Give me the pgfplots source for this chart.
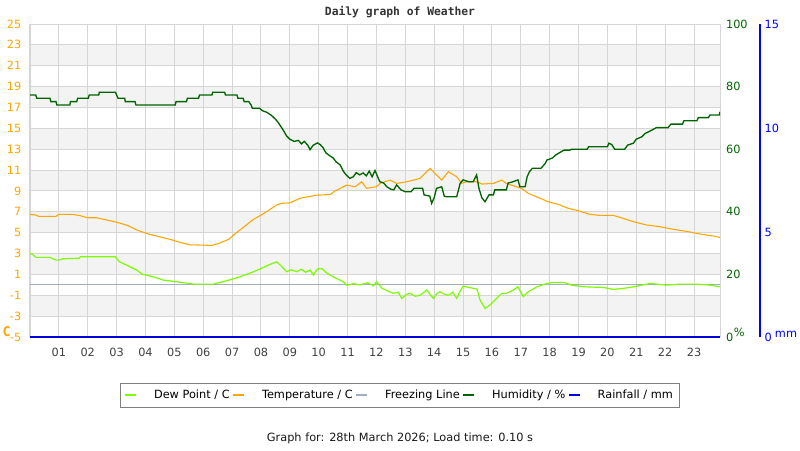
\documentclass[border=0pt]{standalone}
\usepackage{pgfplots}
\pgfplotsset{compat=1.18}
\usepackage{fontspec}
\setmainfont{DejaVu Sans}
\newfontfamily\monofont{DejaVu Sans Mono}
\definecolor{torange}{HTML}{FFA500}
\definecolor{dewgreen}{HTML}{7CFC00}
\definecolor{hgreen}{HTML}{006400}
\definecolor{freeze}{HTML}{A0AEC4}
\definecolor{rainblue}{HTML}{0000FF}
\definecolor{gridc}{HTML}{D6D6D6}
\definecolor{bandc}{HTML}{F3F3F3}
\newcommand{\fs}{\fontsize{8.5}{10}\selectfont}
\pgfplotsset{
  common/.style={
    at={(22.5pt,84.75pt)}, anchor=south west,
    scale only axis, height=234.75pt,
    major tick length=0pt,
    tick label style={font=\fs},
    /pgf/number format/assume math mode=true,
  }
}

\begin{document}
\begin{tikzpicture}
\path[use as bounding box] (0pt,0pt) rectangle (600pt,337.5pt);

% ---------- background bands ----------
\begin{axis}[
  common, width=517.5pt,
  xmin=0, xmax=23.9, ymin=-5, ymax=25,
  hide axis,
]
\fill[bandc] (axis cs:0,21) rectangle (axis cs:23.9,23);
\fill[bandc] (axis cs:0,17) rectangle (axis cs:23.9,19);
\fill[bandc] (axis cs:0,13) rectangle (axis cs:23.9,15);
\fill[bandc] (axis cs:0,9) rectangle (axis cs:23.9,11);
\fill[bandc] (axis cs:0,5) rectangle (axis cs:23.9,7);
\fill[bandc] (axis cs:0,1) rectangle (axis cs:23.9,3);
\fill[bandc] (axis cs:0,-3) rectangle (axis cs:23.9,-1);
\end{axis}

% ---------- main axis: temperature / dew point ----------
\begin{axis}[
  common, width=517.5pt,
  xmin=0, xmax=23.9, ymin=-5, ymax=25,
  xtick={1,2,...,23},
  xticklabels={01,02,03,04,05,06,07,08,09,10,11,12,13,14,15,16,17,18,19,20,21,22,23},
  ytick={-5,-3,...,25},
  grid=major,
  major grid style={draw=gridc, line width=0.75pt},
  axis line style={draw=gridc, line width=0.75pt},
  xticklabel style={text=black!75, yshift=-5pt},
  yticklabel style={text=torange, xshift=-3pt},
]
% freezing line
\addplot[freeze, line width=1pt] coordinates {(0,0) (23.9,0)};

% dew point
\addplot[dewgreen, line width=0.9pt] coordinates {
(0.00,3.02) (0.10,2.90) (0.20,2.63) (0.69,2.63) (0.90,2.37) (1.00,2.37)
(1.15,2.50) (1.70,2.55) (1.75,2.69) (2.95,2.69) (3.10,2.21) (3.35,1.89)
(3.70,1.41) (3.88,1.03) (4.27,0.77) (4.62,0.45) (5.08,0.29) (5.66,0.07)
(6.35,0.07) (6.81,0.39) (7.27,0.77) (7.74,1.25) (8.09,1.67) (8.30,1.95)
(8.55,2.21) (8.70,1.80) (8.89,1.25) (9.05,1.45) (9.24,1.25) (9.40,1.50)
(9.55,1.20) (9.70,1.41) (9.82,0.93) (9.95,1.50) (10.10,1.57) (10.25,1.20)
(10.39,0.93) (10.55,0.70) (10.74,0.45) (10.85,0.30) (10.97,-0.03) (11.20,0.10)
(11.43,0.00) (11.70,0.20) (11.90,-0.10) (12.00,0.29) (12.20,-0.34) (12.40,-0.60)
(12.59,-0.82) (12.75,-0.70) (12.88,-1.30) (13.05,-0.90) (13.17,-0.82) (13.35,-1.10)
(13.51,-1.00) (13.74,-0.50) (13.85,-0.90) (13.97,-1.30) (14.10,-0.80) (14.20,-0.66)
(14.35,-0.90) (14.49,-1.00) (14.65,-0.70) (14.78,-1.30) (14.90,-0.60) (15.01,-0.12)
(15.20,-0.25) (15.36,-0.34) (15.48,-0.40) (15.59,-1.46) (15.76,-2.26) (15.90,-2.00)
(16.05,-1.62) (16.20,-1.20) (16.34,-0.82) (16.50,-0.82) (16.63,-0.66) (16.74,-0.50)
(16.90,-0.19) (17.00,-0.70) (17.09,-1.14) (17.26,-0.66) (17.56,-0.19) (17.90,0.13)
(18.10,0.23) (18.50,0.23) (18.76,-0.03) (19.20,-0.19) (19.86,-0.25) (20.21,-0.44)
(20.55,-0.34) (20.90,-0.19) (21.48,0.13) (22.06,-0.03) (22.52,0.07) (23.10,0.07)
(23.56,-0.03) (23.90,-0.19)
};

% temperature
\addplot[torange, line width=0.8pt] coordinates {
(0.00,6.75) (0.20,6.70) (0.30,6.56) (0.90,6.56) (1.00,6.75) (1.50,6.75)
(1.75,6.62) (2.00,6.43) (2.30,6.43) (2.72,6.18) (3.06,5.96) (3.37,5.70)
(3.71,5.25) (4.10,4.87) (4.50,4.60) (4.85,4.36) (5.20,4.07) (5.53,3.84)
(6.30,3.78) (6.54,3.97) (6.88,4.36) (7.12,4.93) (7.46,5.66) (7.70,6.20)
(8.04,6.75) (8.30,7.20) (8.54,7.65) (8.70,7.81) (9.00,7.85) (9.35,8.29)
(9.93,8.60) (10.39,8.65) (10.57,9.00) (10.97,9.56) (11.26,9.40) (11.49,9.88)
(11.66,9.25) (12.00,9.40) (12.12,9.72) (12.47,10.04) (12.70,9.72) (13.05,9.88)
(13.28,10.04) (13.51,10.20) (13.68,10.68) (13.86,11.16) (14.09,10.52) (14.26,10.04)
(14.49,10.84) (14.78,10.36) (14.95,9.72) (15.10,9.88) (15.50,9.88) (15.65,9.66)
(16.05,9.72) (16.34,10.04) (16.50,9.72) (16.85,9.40) (17.02,9.25) (17.26,8.77)
(17.60,8.38) (17.95,7.96) (18.30,7.71) (18.65,7.33) (19.00,7.10) (19.36,6.78)
(19.70,6.66) (20.20,6.66) (20.55,6.37) (20.90,6.05) (21.37,5.73) (21.83,5.57)
(22.29,5.32) (22.75,5.12) (23.21,4.87) (23.67,4.68) (23.90,4.55)
};
\end{axis}

% ---------- humidity axis ----------
\begin{axis}[
  common, width=517.5pt,
  xmin=0, xmax=23.9, ymin=0, ymax=100,
  axis x line=none, axis y line*=right,
  y axis line style={draw=gridc, line width=0.75pt, -},
  ytick={0,20,...,100},
  yticklabel style={text=hgreen, xshift=1pt},
]
\addplot[hgreen, line width=1pt] coordinates {
(0.00,77.3) (0.20,77.3) (0.23,76.3) (0.69,76.3) (0.72,75.2) (0.90,75.2)
(0.93,74.1) (1.38,74.1) (1.40,75.2) (1.62,75.2) (1.65,76.3) (2.02,76.3)
(2.05,77.3) (2.38,77.3) (2.40,78.2) (2.96,78.2) (3.00,77.3) (3.05,76.3)
(3.28,76.3) (3.30,75.2) (3.64,75.2) (3.67,74.1) (5.03,74.1) (5.06,75.2)
(5.42,75.2) (5.45,76.3) (5.84,76.3) (5.87,77.3) (6.30,77.3) (6.33,78.2)
(6.74,78.2) (6.77,77.3) (7.17,77.3) (7.20,76.3) (7.38,76.3) (7.42,75.2)
(7.58,75.2) (7.66,74.1) (7.70,73.1) (7.95,73.1) (8.05,72.3) (8.20,71.8)
(8.35,70.9) (8.50,69.6) (8.60,68.5) (8.77,66.1) (8.89,64.2) (9.00,63.2)
(9.15,62.5) (9.30,62.8) (9.40,61.7) (9.50,62.5) (9.62,61.3) (9.70,59.8)
(9.80,61.2) (9.95,62.0) (10.05,61.5) (10.15,60.5) (10.25,58.8) (10.40,57.8)
(10.50,57.2) (10.60,56.0) (10.74,55.0) (10.85,53.0) (10.95,51.8) (11.08,50.7)
(11.20,51.2) (11.30,52.5) (11.42,51.8) (11.54,52.4) (11.65,51.5) (11.75,53.0)
(11.85,51.2) (11.95,53.2) (12.05,51.0) (12.12,49.6) (12.25,49.2) (12.36,48.0)
(12.50,47.2) (12.60,47.0) (12.70,48.6) (12.85,47.0) (13.00,46.4) (13.20,46.4)
(13.30,47.5) (13.60,47.5) (13.65,45.4) (13.85,45.0) (13.91,42.7) (14.00,44.5)
(14.08,47.5) (14.26,48.0) (14.35,45.0) (14.43,44.8) (14.78,44.8) (14.90,49.1)
(15.00,50.2) (15.20,49.6) (15.35,49.6) (15.47,51.8) (15.55,47.5) (15.65,44.5)
(15.76,43.2) (15.90,45.4) (16.05,45.4) (16.10,47.0) (16.50,47.0) (16.56,49.2)
(16.70,49.5) (16.90,50.2) (16.97,48.0) (17.15,48.0) (17.22,51.2) (17.30,52.8)
(17.40,53.9) (17.70,53.9) (17.85,55.5) (17.90,56.5) (18.10,57.2) (18.20,58.1)
(18.40,59.2) (18.50,59.7) (18.70,59.7) (18.75,60.0) (19.30,60.0) (19.35,60.8)
(20.00,60.8) (20.05,61.9) (20.15,61.5) (20.25,60.0) (20.60,60.0) (20.70,61.3)
(20.90,61.9) (21.00,63.2) (21.20,64.0) (21.30,65.0) (21.50,65.9) (21.70,66.9)
(22.10,66.9) (22.20,68.0) (22.60,68.0) (22.65,69.1) (23.10,69.1) (23.15,70.1)
(23.50,70.1) (23.55,70.9) (23.88,70.9) (23.90,72.0)
};
\end{axis}

% ---------- rainfall axis ----------
\begin{axis}[
  common, width=547.5pt,
  xmin=0, xmax=25.2857, ymin=0, ymax=15,
  axis x line=none, axis y line*=right,
  y axis line style={draw=rainblue, line width=0.9pt, -},
  ytick={0,5,10,15},
  yticklabel style={text=rainblue},
  clip=false,
  legend columns=5,
  legend style={at={(0.5068,-0.147)}, anchor=north, draw=black!50, line width=0.75pt,
    font=\fs, inner xsep=3pt, inner ysep=3pt,
    /tikz/every odd column/.append style={column sep=10.5pt}},
  legend image code/.code={\draw[line width=1.5pt] (0pt,0pt) -- (8.25pt,0pt);},
  legend entries={Dew Point / C, Temperature / C, Freezing Line, Humidity / \%, Rainfall / mm},
]
\addlegendimage{dewgreen}
\addlegendimage{torange}
\addlegendimage{freeze}
\addlegendimage{hgreen}
\addplot[rainblue!85!black, line width=1pt] coordinates {(0,0) (23.9,0)};
\end{axis}

% ---------- texts ----------
\node[font=\monofont\bfseries\fontsize{8.5}{10}\selectfont, text=black!80] at (300pt,328.5pt) {Daily graph of Weather};
\node[font=\fs, text=black!90] at (300pt,9pt) {Graph for: 28th March 2026; Load time: 0.10 s};
\node[font=\monofont\bfseries\fontsize{10}{12}\selectfont, text=torange] at (5pt,88.5pt) {C};
\node[font=\fs, text=hgreen] at (554.5pt,88.5pt) {\%};
\node[font=\fs, text=rainblue] at (589.5pt,87pt) {mm};
\end{tikzpicture}
\end{document}
